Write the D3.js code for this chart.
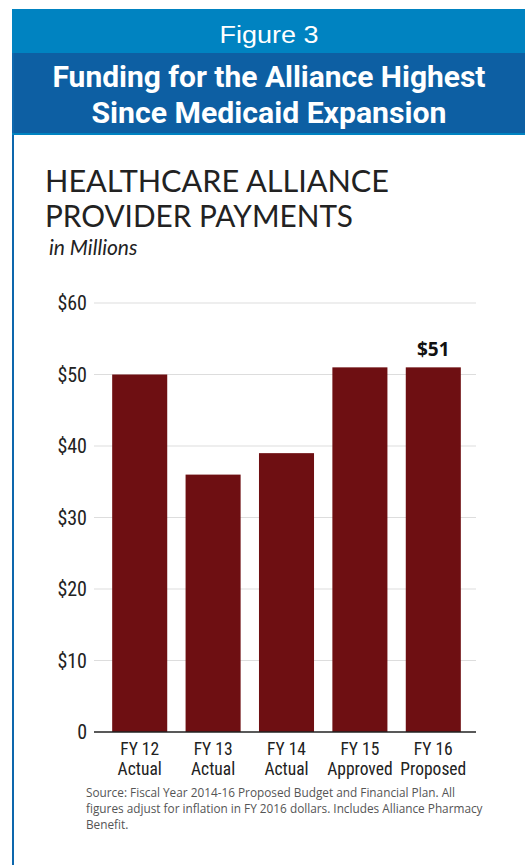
<!DOCTYPE html>
<html>
<head>
<meta charset="utf-8">
<script src="https://cdn.jsdelivr.net/npm/d3@7"></script>
<style>
  body { margin: 0; background: #fff; }
  svg { display: block; }
</style>
</head>
<body>
<div id="chart"></div>
<script>
// chart data
const categories = ["FY 12", "FY 13", "FY 14", "FY 15", "FY 16"];
const subLabels = ["Actual", "Actual", "Actual", "Approved", "Proposed"];
const payments = [50, 36, 39, 51, 51];
const yTicks = [0, 10, 20, 30, 40, 50, 60];

const width = 525;
const height = 865;
const condensed = "'Liberation Sans Narrow', 'Roboto Condensed', 'Arial Narrow', sans-serif";

const svg = d3.select("#chart")
  .append("svg")
  .attr("width", width)
  .attr("height", height);

// frame and header bands
svg.append("rect").attr("x", 12).attr("y", 9).attr("width", 2).attr("height", height - 9).attr("fill", "#0d67ad");
svg.append("rect").attr("x", 12).attr("y", 9).attr("width", width - 12).attr("height", 44).attr("fill", "#0083c1");
svg.append("rect").attr("x", 14).attr("y", 53).attr("width", width - 14).attr("height", 80).attr("fill", "#0d5fa3");
svg.append("rect").attr("x", 12).attr("y", 133).attr("width", width - 12).attr("height", 2).attr("fill", "#0083c1");

svg.append("text")
  .attr("x", 269).attr("y", 43)
  .attr("text-anchor", "middle")
  .attr("fill", "#fff")
  .attr("textLength", 99)
  .attr("lengthAdjust", "spacingAndGlyphs")
  .style("font-family", "'Liberation Sans', Roboto, sans-serif")
  .style("font-size", "23px")
  .text("Figure 3");

const headLines = ["Funding for the Alliance Highest", "Since Medicaid Expansion"];
const headLengths = [433, 355];
svg.append("text")
  .attr("text-anchor", "middle")
  .attr("fill", "#fff")
  .style("font-family", "Roboto, 'Liberation Sans', sans-serif")
  .style("font-size", "29px")
  .style("font-weight", "bold")
  .selectAll("tspan")
  .data(headLines)
  .join("tspan")
  .attr("x", 269)
  .attr("y", (d, i) => 87 + i * 36)
  .attr("textLength", (d, i) => headLengths[i])
  .attr("lengthAdjust", "spacingAndGlyphs")
  .text(d => d);

// chart titles
svg.append("text")
  .attr("fill", "#222")
  .style("font-family", "Lato, 'Open Sans', sans-serif")
  .style("font-size", "31px")
  .selectAll("tspan")
  .data(["HEALTHCARE ALLIANCE", "PROVIDER PAYMENTS"])
  .join("tspan")
  .attr("x", 45)
  .attr("y", (d, i) => 192 + i * 35)
  .attr("textLength", (d, i) => i === 0 ? 344 : 308)
  .attr("lengthAdjust", "spacingAndGlyphs")
  .text(d => d);

svg.append("text")
  .attr("x", 49).attr("y", 255)
  .attr("fill", "#222")
  .style("font-family", "Lato, 'Open Sans', sans-serif")
  .style("font-size", "21px")
  .style("font-style", "italic")
  .text("in Millions");

// scales
const x = d3.scaleBand()
  .domain(categories)
  .range([103, 470])
  .paddingInner(0.25)
  .paddingOuter(0.125);

const y = d3.scaleLinear()
  .domain([0, 60])
  .range([732, 303]);

// gridlines
svg.append("g")
  .selectAll("line")
  .data(yTicks.filter(d => d > 0))
  .join("line")
  .attr("x1", 94).attr("x2", 476)
  .attr("y1", d => y(d)).attr("y2", d => y(d))
  .attr("stroke", "#ddd")
  .attr("stroke-width", 1);

// y axis labels
svg.append("g")
  .selectAll("text")
  .data(yTicks)
  .join("text")
  .attr("x", 87)
  .attr("y", d => y(d) + 7)
  .attr("text-anchor", "end")
  .attr("fill", "#222")
  .style("font-family", condensed)
  .style("font-size", "20px")
  .text(d => d === 0 ? "0" : "$" + d);

// bars
svg.selectAll(".bar")
  .data(payments)
  .join("rect")
  .attr("class", "bar")
  .attr("x", (d, i) => x(categories[i]))
  .attr("y", d => y(d))
  .attr("width", x.bandwidth())
  .attr("height", d => y(0) - y(d))
  .attr("fill", "#6e0f12");

// baseline
svg.append("line")
  .attr("x1", 94).attr("x2", 476)
  .attr("y1", y(0)).attr("y2", y(0))
  .attr("stroke", "#222")
  .attr("stroke-width", 1.5);

// value label on last bar
svg.append("text")
  .attr("x", x(categories[4]) + x.bandwidth() / 2)
  .attr("y", y(payments[4]) - 11)
  .attr("text-anchor", "middle")
  .attr("fill", "#111")
  .style("font-family", "'Open Sans', sans-serif")
  .style("font-size", "19px")
  .style("font-weight", "bold")
  .text("$" + payments[4]);

// x labels
const xl = svg.append("g")
  .selectAll("text")
  .data(categories)
  .join("text")
  .attr("text-anchor", "middle")
  .attr("fill", "#222")
  .style("font-family", condensed)
  .style("font-size", "17.5px");
xl.append("tspan")
  .attr("x", d => x(d) + x.bandwidth() / 2)
  .attr("y", 755)
  .text(d => d);
xl.append("tspan")
  .attr("x", d => x(d) + x.bandwidth() / 2)
  .attr("y", 775)
  .text((d, i) => subLabels[i]);

// source note
svg.append("text")
  .attr("fill", "#555")
  .style("font-family", "'Open Sans', 'Noto Sans', sans-serif")
  .style("font-size", "11.8px")
  .selectAll("tspan")
  .data([
    "Source: Fiscal Year 2014-16 Proposed Budget and Financial Plan. All",
    "figures adjust for inflation in FY 2016 dollars. Includes Alliance Pharmacy",
    "Benefit."
  ])
  .join("tspan")
  .attr("x", 86)
  .attr("y", (d, i) => 797 + i * 16)
  .text(d => d);
</script>
</body>
</html>
